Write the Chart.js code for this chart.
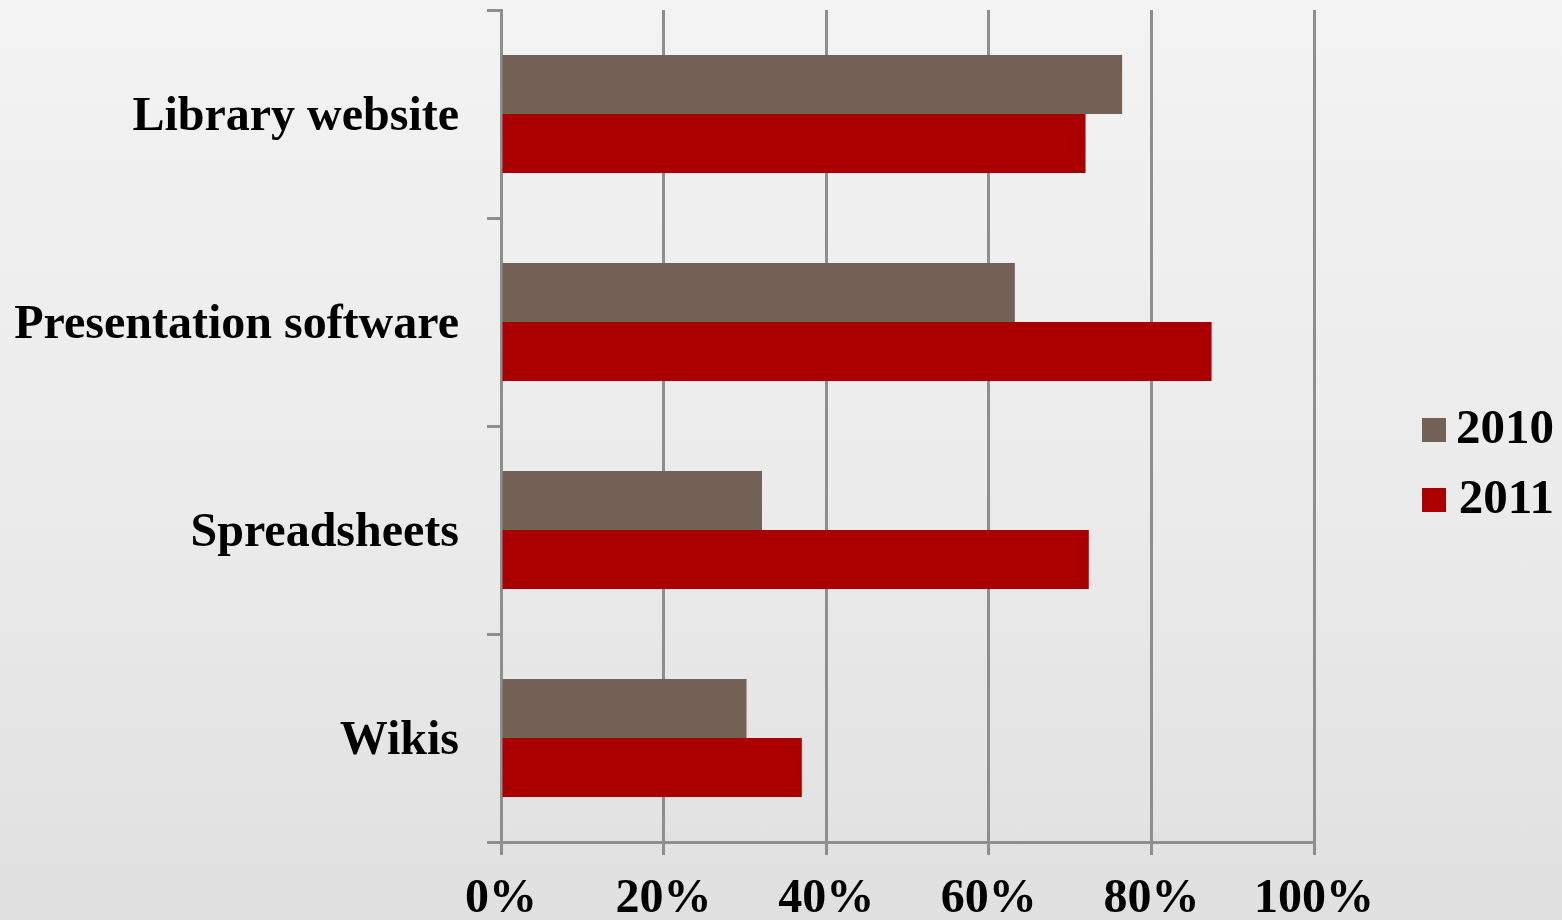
<!DOCTYPE html>
<html>
<head>
<meta charset="utf-8">
<script src="https://cdn.jsdelivr.net/npm/chart.js@4/dist/chart.umd.min.js"></script>
<style>
  html, body { margin: 0; padding: 0; }
  body {
    width: 1562px; height: 920px; overflow: hidden;
    background: linear-gradient(to bottom, #f3f3f3 0%, #ebebeb 55%, #e0e0e0 100%);
  }
  #wrap { position: relative; width: 1562px; height: 920px; }
</style>
</head>
<body>
<div id="wrap"><canvas id="chart"></canvas></div>
<script>
// values (share of respondents, %)
const categories = ["Library website", "Presentation software", "Spreadsheets", "Wikis"];
const seriesNames = ["2010", "2011"];
const values2010 = [76.4, 63.2, 32.1, 30.2];
const values2011 = [71.9, 87.4, 72.3, 37.0];
const tickValues = [0, 20, 40, 60, 80, 100];

const GRID = "#8e8e8e";
const FONT = "'Liberation Serif', 'Times New Roman', serif";

// chart.js puts a right-hand legend flush against the plot; nudge it out
// to where the original has it
const legendSpot = {
  id: "legendSpot",
  afterLayout(chart) {
    const lg = chart.legend;
    if (!lg) return;
    lg.left = 1422 - lg.options.labels.padding;
    lg.right = 1554;
    lg.width = lg.right - lg.left;
  },
};

new Chart(document.getElementById("chart"), {
  type: "bar",
  data: {
    labels: categories,
    datasets: [
      { label: seriesNames[0], data: values2010, backgroundColor: "#736155" },
      { label: seriesNames[1], data: values2011, backgroundColor: "#aa0000" },
    ],
  },
  options: {
    indexAxis: "y",
    responsive: true,
    maintainAspectRatio: false,
    animation: false,
    categoryPercentage: 0.567,
    barPercentage: 1,
    layout: { padding: { top: 10, left: 0, right: 0, bottom: 0 } },
    plugins: {
      tooltip: { enabled: false },
      legend: {
        position: "right",
        labels: {
          boxWidth: 24,
          boxHeight: 24,
          padding: 21,
          color: "#000",
          textAlign: "right",
          font: { family: FONT, size: 49, weight: "bold" },
        },
      },
    },
    scales: {
      x: {
        min: 0,
        max: 100,
        afterBuildTicks: (s) => { s.ticks = tickValues.map((v) => ({ value: v })); },
        afterFit: (s) => { s.height = 78; s.paddingRight = 248; },
        grid: { color: GRID, lineWidth: 3, tickLength: 13, drawTicks: true },
        border: { color: GRID, width: 3 },
        ticks: {
          padding: 16,
          color: "#000",
          maxRotation: 0,
          font: { family: FONT, size: 48, weight: "bold" },
          callback: (v) => v + "%",
        },
      },
      y: {
        afterFit: (s) => { s.width = 501; s.paddingTop = 0; s.paddingBottom = 0; },
        grid: { color: GRID, lineWidth: 3, tickLength: 14, drawOnChartArea: false, offset: true },
        border: { color: GRID, width: 3 },
        ticks: {
          padding: 28,
          labelOffset: 4,
          color: "#000",
          font: { family: FONT, size: 48, weight: "bold" },
        },
      },
    },
  },
  plugins: [legendSpot],
});
</script>
</body>
</html>
